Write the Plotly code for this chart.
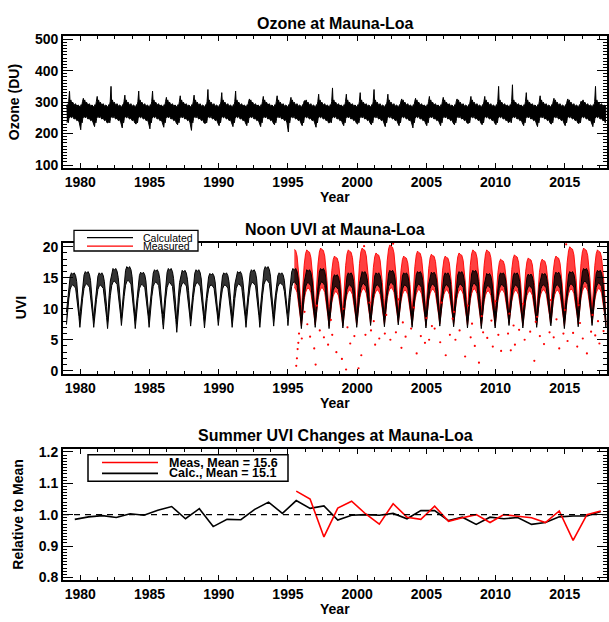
import plotly.graph_objects as go

# ---------------- data ----------------
years = list(range(1979, 2018))

# Panel 1: daily ozone band, summarised per year (DU)
oz_spring_peak = [335, 312, 318, 350, 322, 335, 335, 315, 320, 322, 340, 330, 335, 310,
                  318, 320, 315, 305, 325, 345, 325, 330, 340, 325, 310, 312, 318, 315,
                  310, 318, 318, 350, 355, 330, 320, 312, 310, 300, 350]
oz_winter_low = [235, 212, 222, 235, 218, 230, 215, 220, 228, 210, 232, 225, 222, 225,
                 222, 228, 205, 225, 220, 235, 225, 230, 228, 222, 225, 218, 225, 225,
                 228, 232, 228, 228, 238, 225, 222, 230, 225, 232, 222]
# typical seasonal envelope of the ozone band (phase of year, DU); None = yearly extreme
oz_up_phase = [0.00, 0.06, 0.10, 0.16, 0.22, 0.26, 0.32, 0.38, 0.45, 0.55, 0.65, 0.75, 0.85, 0.97]
oz_up_level = [285, 292, 286, 302, None, 300, 307, 296, 300, 290, 295, 287, 291, 284]
oz_lo_phase = [0.03, 0.08, 0.13, 0.18, 0.28, 0.35, 0.45, 0.55, 0.65, 0.75, 0.85, 0.93]
oz_lo_level = [None, 242, 234, 248, 256, 250, 254, 246, 249, 241, 244, 234]

# Panel 2: noon UVI, calculated band per year
uvi_summer_max = [15.8, 16.0, 15.8, 16.5, 16.8, 15.9, 16.3, 16.5, 16.2, 16.3, 15.7, 15.8,
                  16.0, 16.3, 16.8, 15.8, 16.5, 16.3, 16.5, 15.5, 15.8, 16.0, 15.8, 16.2,
                  15.8, 16.0, 15.9, 15.8, 16.0, 16.2, 15.7, 15.8, 15.8, 15.6, 15.7, 15.9,
                  16.0, 16.5, 16.2]
uvi_winter_min = [7.0, 7.0, 6.8, 7.3, 6.8, 7.0, 7.3, 6.2, 7.2, 6.9, 7.3, 7.0, 7.0, 7.0,
                  7.2, 8.3, 6.8, 7.0, 6.8, 6.9, 7.0, 7.3, 7.1, 7.4, 7.0, 6.9, 7.2, 7.1,
                  6.9, 6.8, 6.9, 7.3, 6.9, 7.0, 7.4, 6.8, 7.1, 7.3, 7.0]
uvi_phase = [0.00, 0.08, 0.17, 0.27, 0.36, 0.46, 0.56, 0.66, 0.74, 0.82, 0.90, 0.97]
uvi_up_frac = [0.28, 0.52, 0.78, 0.94, 1.00, 0.97, 1.00, 0.95, 0.84, 0.64, 0.40, 0.13]
uvi_lo_frac = [0.05, 0.28, 0.52, 0.70, 0.76, 0.78, 0.75, 0.72, 0.60, 0.42, 0.20, 0.00]

# measured UVI (from mid-1995): yearly upper level of the red cloud
meas_years = list(range(1995, 2018))
uvi_meas_max = [19.8, 19.5, 19.8, 18.5, 19.5, 19.8, 19.0, 20.3, 18.5, 19.3, 18.8, 18.5,
                19.0, 19.5, 19.5, 18.0, 18.7, 18.2, 18.0, 18.5, 20.0, 19.8, 19.5]
meas_up_frac = [0.30, 0.55, 0.80, 0.95, 1.00, 0.98, 0.97, 0.90, 0.78, 0.60, 0.38, 0.15]
meas_lo_frac = [0.10, 0.30, 0.48, 0.60, 0.66, 0.68, 0.66, 0.60, 0.50, 0.36, 0.18, 0.04]
meas_start = 1995.45
# scattered low measured values
meas_out_t = [1995.6, 1995.65, 1995.7, 1995.75, 1995.8, 1996.0, 1996.6, 1996.9, 1997.0, 1997.3,
              1997.6, 1997.9, 1998.2, 1998.5, 1998.9, 1999.2, 1999.5, 1999.8, 2000.1, 2000.3,
              2000.6, 2001.0, 2001.3, 2001.6, 2002.0, 2002.4, 2002.8, 2003.2, 2003.5, 2003.9,
              2004.3, 2004.6, 2004.9, 2005.2, 2005.6, 2006.0, 2006.4, 2006.7, 2007.1, 2007.4,
              2007.8, 2008.2, 2008.5, 2008.8, 2009.1, 2009.4, 2009.8, 2010.2, 2010.4, 2010.9,
              2011.1, 2011.4, 2011.7, 2012.1, 2012.5, 2012.8, 2013.2, 2013.5, 2013.9, 2014.2,
              2014.6, 2014.9, 2015.2, 2015.6, 2015.9, 2016.3, 2016.6, 2016.9, 2017.2, 2017.5,
              2017.8, 1996.2, 1997.1, 1999.0, 2000.9, 2002.1, 2003.0, 2004.1, 2005.0, 2006.1,
              2007.0, 2008.0, 2009.0, 2010.0, 2011.0, 2012.0, 2013.0, 2014.0, 2015.0, 2016.0,
              2017.0, 2000.5, 2002.6, 2015.1, 1996.4, 1998.1, 1999.3, 2001.2, 2003.3, 2005.4,
              2006.9, 2008.3, 2009.7, 2011.3, 2012.9, 2014.4, 2016.1, 2017.4]
meas_out_v = [0.8, 2.0, 3.5, 4.5, 6.0, 5.2, 5.5, 3.6, 1.0, 6.5,
              5.4, 4.2, 5.8, 3.0, 1.9, 0.2, 4.4, 5.6, 0.4, 2.5,
              5.8, 6.5, 4.2, 5.2, 6.0, 5.0, 6.2, 3.7, 5.5, 6.8,
              2.8, 5.6, 4.5, 5.0, 6.8, 4.6, 2.5, 5.8, 5.0, 6.5,
              2.3, 5.4, 4.0, 1.3, 6.2, 5.3, 3.9, 5.8, 3.2, 6.0,
              3.3, 4.2, 6.6, 5.0, 6.3, 1.6, 5.6, 4.3, 6.2, 5.4,
              3.6, 6.0, 4.8, 6.1, 3.9, 5.2, 2.8, 6.3, 5.7, 4.4,
              6.4, 9.5, 10.5, 10.0, 11.0, 9.0, 11.5, 10.2, 8.5, 11.0,
              9.5, 10.5, 8.8, 11.2, 9.2, 10.8, 8.7, 11.4, 9.8, 10.6,
              9.0, 20.1, 20.5, 20.4, 7.5, 8.2, 7.0, 8.0, 7.8, 7.2,
              8.4, 7.6, 8.1, 7.3, 7.9, 8.3, 7.7, 8.0]

# Panel 3: summer UVI relative to mean
calc_rel = [0.985, 0.993, 0.997, 0.991, 1.003, 0.998, 1.014, 1.026, 0.987, 1.019, 0.962, 0.985,
            0.984, 1.017, 1.040, 1.004, 1.045, 1.020, 1.028, 0.983, 0.998, 1.000, 0.998, 1.004,
            0.987, 1.013, 1.013, 0.981, 0.992, 0.969, 0.992, 0.987, 0.991, 0.969, 0.975, 0.993,
            0.996, 0.996, 1.010]
meas_rel = [1.075, 1.050, 0.929, 1.021, 1.043, 1.003, 0.970, 1.035, 0.992, 0.985, 1.027, 0.979,
            0.990, 1.000, 0.975, 1.000, 0.995, 0.990, 0.975, 1.012, 0.918, 1.000, 1.012]
summer_phase = 0.6
calc_label = "Calc., Mean = 15.1"
meas_label = "Meas, Mean = 15.6"

# ---------------- figure geometry ----------------
W, H = 609, 622
L, R = 63, 2
XR = [1978.75, 2018.05]


def px(xp):
    return (xp - L) / (W - L - R)


def py(yp):
    return 1 - yp / H


def dom(top, bottom):
    return [py(bottom), py(top)]


FONT = "Liberation Sans"


def band(yrs, up_phase, up_vals, lo_phase, lo_vals):
    ux, uy, lx, ly = [], [], [], []
    for i, y in enumerate(yrs):
        for p, v in zip(up_phase, up_vals[i]):
            ux.append(y + p)
            uy.append(v)
        for p, v in zip(lo_phase, lo_vals[i]):
            lx.append(y + p)
            ly.append(v)
    return ux + lx[::-1], uy + ly[::-1]


fig = go.Figure()

# ---- panel 1
oz_up = [[oz_spring_peak[i] if v is None else v for v in oz_up_level] for i in range(len(years))]
oz_lo = [[oz_winter_low[i] if v is None else v for v in oz_lo_level] for i in range(len(years))]
bx, by = band(years, oz_up_phase, oz_up, oz_lo_phase, oz_lo)
fig.add_trace(go.Scatter(x=bx, y=by, fill="toself", fillcolor="black", mode="lines",
                         line=dict(color="black", width=1), xaxis="x", yaxis="y",
                         showlegend=False, hoverinfo="skip"))

# ---- panel 2: measured (red) cloud
mi = [years.index(y) for y in meas_years]
mx_u, my_u, mx_l, my_l = [], [], [], []
for k, y in enumerate(meas_years):
    i = mi[k]
    lo = uvi_winter_min[i]
    for j, p in enumerate(uvi_phase):
        t = y + p
        if t < meas_start:
            continue
        mx_u.append(t)
        my_u.append(lo + (uvi_meas_max[k] - lo) * meas_up_frac[j])
        mx_l.append(t)
        my_l.append(lo + (uvi_summer_max[i] - lo) * meas_lo_frac[j])
fig.add_trace(go.Scatter(x=mx_u + mx_l[::-1], y=my_u + my_l[::-1], fill="toself",
                         fillcolor="rgba(255,0,0,0.75)", mode="lines",
                         line=dict(color="rgba(255,0,0,0.9)", width=1), xaxis="x2", yaxis="y2",
                         showlegend=False, hoverinfo="skip"))

# calculated (black) band
c_up = [[uvi_winter_min[i] + (uvi_summer_max[i] - uvi_winter_min[i]) * f for f in uvi_up_frac]
        for i in range(len(years))]
c_lo = [[uvi_winter_min[i] + (uvi_summer_max[i] - uvi_winter_min[i]) * f for f in uvi_lo_frac]
        for i in range(len(years))]
bx2, by2 = band(years, uvi_phase, c_up, uvi_phase, c_lo)
fig.add_trace(go.Scatter(x=bx2, y=by2, fill="toself", fillcolor="rgba(0,0,0,0.8)",
                         mode="lines", line=dict(color="black", width=1),
                         xaxis="x2", yaxis="y2", showlegend=False, hoverinfo="skip"))

fig.add_trace(go.Scatter(x=meas_out_t, y=meas_out_v, mode="markers",
                         marker=dict(color="red", size=2.2, line=dict(width=0)),
                         xaxis="x2", yaxis="y2", showlegend=False, hoverinfo="skip"))

# ---- panel 3
fig.add_trace(go.Scatter(x=[y + summer_phase for y in years], y=calc_rel, mode="lines",
                         line=dict(color="black", width=1.6), xaxis="x3", yaxis="y3",
                         name=calc_label, showlegend=False))
fig.add_trace(go.Scatter(x=[y + summer_phase for y in meas_years], y=meas_rel, mode="lines",
                         line=dict(color="red", width=1.6), xaxis="x3", yaxis="y3",
                         name=meas_label, showlegend=False))

# ---------------- axes ----------------
tickfont = dict(family=FONT, size=14, color="black", weight="bold")


def xax(anchor):
    return dict(domain=[0, 1], anchor=anchor, range=XR, tick0=1980, dtick=5,
                ticks="inside", ticklen=5, tickwidth=1.2, tickcolor="black",
                showline=True, linewidth=1.8, linecolor="black", mirror="ticks",
                showgrid=False, zeroline=False, tickfont=tickfont,
                minor=dict(tick0=1980, dtick=1.25, ticks="inside", ticklen=3,
                           tickwidth=1, tickcolor="black", showgrid=False))


def yax(anchor, d, rng, dt, mdt):
    return dict(domain=d, anchor=anchor, range=rng, tick0=0, dtick=dt,
                ticks="inside", ticklen=10, tickwidth=1.2, tickcolor="black",
                showline=True, linewidth=1.8, linecolor="black", mirror="ticks",
                showgrid=False, zeroline=False, tickfont=tickfont,
                minor=dict(tick0=0, dtick=mdt, ticks="inside", ticklen=4,
                           tickwidth=1, tickcolor="black", showgrid=False))


P1 = (32, 165.5)
P2 = (241.5, 375)
P3 = (451.5, 584.5)

fig.update_layout(
    width=W, height=H, autosize=False,
    margin=dict(l=L, r=R, t=0, b=0, pad=0),
    paper_bgcolor="white", plot_bgcolor="white",
    font=dict(family=FONT, color="black"),
    xaxis=xax("y"), yaxis=yax("x", dom(*P1), [91, 508.5], 100, 10),
    xaxis2=xax("y2"), yaxis2=yax("x2", dom(*P2), [-0.52, 20.67], 5, 1),
    xaxis3=xax("y3"), yaxis3=yax("x3", dom(*P3), [0.7915, 1.2085], 0.1, 0.01),
)
fig.update_layout(yaxis3_tickformat=".1f")

# dashed reference line at 1.0
fig.add_shape(type="line", xref="x3 domain", yref="y3", x0=0, x1=1, y0=1.0, y1=1.0,
              line=dict(color="black", width=1.3, dash="6px,5px"))

# ---------------- text ----------------
ann = []


def text(t, xp, yp, size, bold=True, angle=0, xanchor="center"):
    ann.append(dict(text=t, x=px(xp), y=py(yp), xref="paper", yref="paper",
                    showarrow=False, xanchor=xanchor, yanchor="middle", textangle=angle,
                    borderpad=0,
                    font=dict(family=FONT, size=size, color="black",
                              weight="bold" if bold else "normal")))


cx = (L + W - R) / 2
text("Ozone at Mauna-Loa", cx, 19, 16)
text("Noon UVI at Mauna-Loa", cx, 228, 16)
text("Summer UVI Changes at Mauna-Loa", cx, 438, 16)
for yy in (195, 405, 614):
    text("Year", cx, yy, 14)
text("Ozone (DU)", 14, (P1[0] + P1[1]) / 2, 14, angle=-90)
text("UVI", 21, (P2[0] + P2[1]) / 2, 14, angle=-90)
text("Relative to Mean", 18, (P3[0] + P3[1]) / 2, 14, angle=-90)

# legend panel 2
shapes = []
shapes.append(dict(type="rect", xref="paper", yref="paper", x0=px(74), x1=px(198),
                   y0=py(250), y1=py(229), line=dict(color="black", width=1.3),
                   fillcolor="white", layer="above"))
shapes.append(dict(type="line", xref="paper", yref="paper", x0=px(87), x1=px(133),
                   y0=py(236.5), y1=py(236.5), line=dict(color="black", width=1.3), layer="above"))
shapes.append(dict(type="line", xref="paper", yref="paper", x0=px(87), x1=px(133),
                   y0=py(245), y1=py(245), line=dict(color="red", width=1.3), layer="above"))
text("Calculated", 141.5, 236.3, 10.5, bold=False, xanchor="left")
text("Measured", 141.5, 245.0, 10.5, bold=False, xanchor="left")

# legend panel 3
shapes.append(dict(type="rect", xref="paper", yref="paper", x0=px(88), x1=px(288),
                   y0=py(484), y1=py(457), line=dict(color="black", width=1.5),
                   fillcolor="white", layer="above"))
shapes.append(dict(type="line", xref="paper", yref="paper", x0=px(102), x1=px(158),
                   y0=py(465), y1=py(465), line=dict(color="red", width=1.6), layer="above"))
shapes.append(dict(type="line", xref="paper", yref="paper", x0=px(102), x1=px(158),
                   y0=py(476), y1=py(476), line=dict(color="black", width=1.6), layer="above"))
text(meas_label, 168, 465, 12.5, xanchor="left")
text(calc_label, 168, 476, 12.5, xanchor="left")

for s in shapes:
    fig.add_shape(**s)
fig.update_layout(annotations=ann)

fig.write_html("out.html", config={"displayModeBar": False},
               post_script="document.body.style.margin='0';document.body.style.overflow='hidden';")
